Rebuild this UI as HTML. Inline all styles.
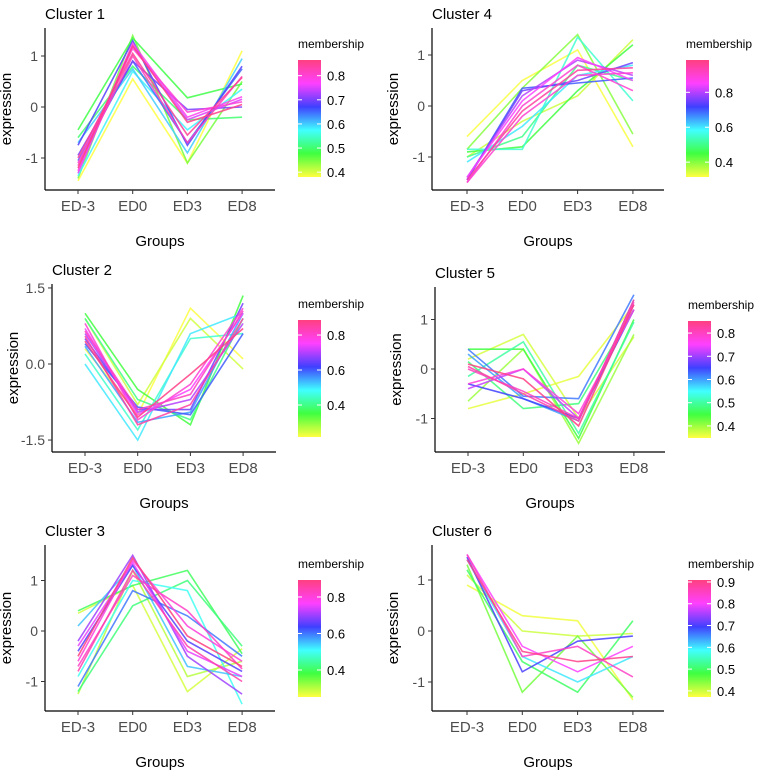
<!DOCTYPE html>
<html><head><meta charset="utf-8"><style>
body{margin:0;background:#fff;}
svg{display:block;font-family:"Liberation Sans",sans-serif;}
</style></head><body>
<svg id="s" width="767" height="775" viewBox="0 0 767 775">
<defs>
<linearGradient id="rb" x1="0" y1="1" x2="0" y2="0">
<stop offset="0" stop-color="#ffff40"/><stop offset="0.2" stop-color="#40ff40"/><stop offset="0.4" stop-color="#40ffff"/><stop offset="0.6" stop-color="#4040ff"/><stop offset="0.8" stop-color="#ff40ff"/><stop offset="1" stop-color="#ff4080"/>
</linearGradient>
</defs>
</svg>
<script>
const groups=["ED-3","ED0","ED3","ED8"];
const c1=[[-1.4,1.4,-1.1,0.5,0.45],[-0.45,1.35,0.18,0.45,0.48],[-1.45,0.55,-1.1,1.1,0.38],[-0.7,0.75,-0.9,0.95,0.6],[-1.35,0.7,-0.45,0.35,0.58],[-0.6,0.8,-0.25,-0.2,0.5],[-0.75,1.3,-0.75,0.8,0.68],[-0.95,0.9,-0.05,0.0,0.7],[-1.25,1.25,-0.2,0.2,0.78],[-1.1,1.15,-0.1,0.1,0.8],[-1.2,1.2,-0.3,0.05,0.86],[-1.0,1.05,-0.55,0.58,0.85],[-1.15,1.0,-0.7,0.6,0.82],[-1.3,1.2,-0.25,0.15,0.75],[-1.05,0.9,-0.7,0.75,0.65]];
const c2=[[1.0,-0.5,-1.2,1.35,0.35],[0.9,-0.8,0.9,-0.1,0.25],[0.3,-1.0,1.1,0.1,0.22],[0.0,-1.5,0.6,1.0,0.5],[0.2,-1.3,0.5,0.6,0.45],[0.9,-0.7,-1.1,0.9,0.4],[0.5,-0.9,-0.9,1.2,0.65],[0.4,-0.85,-1.0,0.6,0.6],[0.6,-0.95,-0.7,0.8,0.7],[0.7,-1.0,-0.5,1.0,0.75],[0.8,-1.1,-0.4,1.1,0.8],[0.55,-1.2,-0.8,0.9,0.85],[0.45,-1.05,-0.2,0.7,0.88],[0.65,-0.9,-0.6,1.05,0.82],[0.35,-1.15,-0.95,1.0,0.55]];
const c3=[[0.35,0.9,-1.2,-0.35,0.28],[-1.25,1.2,-0.9,-0.6,0.3],[0.4,0.9,1.2,-0.45,0.4],[-1.2,0.5,1.0,-0.3,0.42],[-0.9,1.0,0.8,-1.45,0.5],[0.1,1.3,-0.7,-0.9,0.55],[-1.1,0.8,0.3,-0.5,0.6],[-0.2,1.5,-0.5,-1.25,0.7],[-0.4,1.3,-0.2,-0.8,0.65],[-0.6,1.4,0.1,-0.6,0.8],[-0.8,1.2,-0.3,-1.0,0.85],[-0.5,1.45,-0.1,-0.7,0.9],[-0.7,1.1,0.4,-0.75,0.82],[-0.3,1.35,-0.4,-0.9,0.75]];
const c4=[[-0.6,0.5,1.1,-0.8,0.32],[-1.0,-0.3,0.2,1.3,0.35],[-0.85,0.35,1.4,-0.55,0.4],[-0.9,-0.8,0.3,1.2,0.45],[-1.0,-0.6,0.8,0.5,0.5],[-0.85,-0.85,1.35,0.1,0.55],[-1.1,-0.4,0.6,0.8,0.6],[-1.45,0.35,0.45,0.55,0.7],[-1.4,0.2,0.9,0.6,0.8],[-1.5,0.0,0.8,0.3,0.9],[-1.45,-0.1,0.7,0.75,0.95],[-1.4,0.1,0.95,0.5,0.85],[-1.5,-0.2,0.6,0.65,0.9],[-1.45,0.3,0.5,0.85,0.75]];
const c5=[[-0.8,-0.5,-0.15,1.3,0.36],[0.2,0.7,-1.0,0.65,0.37],[-0.65,0.4,-1.5,0.7,0.4],[0.4,0.4,-1.4,1.0,0.45],[-0.15,0.55,-1.3,0.95,0.5],[0.15,-0.8,-0.7,1.2,0.48],[0.4,-0.55,-0.6,1.5,0.62],[-0.3,-0.6,-1.0,1.2,0.65],[0.3,-0.6,-1.05,1.4,0.6],[-0.4,0.0,-1.0,1.3,0.72],[-0.3,0.0,-0.9,1.2,0.78],[0.0,-0.45,-1.0,1.35,0.8],[0.1,-0.2,-1.15,1.3,0.85],[0.05,-0.5,-1.05,1.4,0.82]];
const c6=[[0.9,0.3,0.2,-1.35,0.38],[1.1,0.0,-0.1,-0.05,0.4],[1.3,-1.2,-0.1,-1.3,0.45],[1.2,-0.6,-1.2,0.2,0.5],[1.4,-0.5,-1.0,-0.5,0.6],[1.45,-0.8,-0.2,-0.1,0.7],[1.5,-0.3,-0.8,-0.3,0.8],[1.5,-0.5,-0.3,-0.9,0.85],[1.4,-0.4,-0.6,-0.5,0.9]];
const yt1=[-1,0,1], yt2=[-1.5,0,1.5];
const lt1=[0.4,0.5,0.6,0.7,0.8], lt2=[0.4,0.6,0.8], lt3=[0.4,0.5,0.6,0.7,0.8,0.9];

const NS="http://www.w3.org/2000/svg", S=document.getElementById('s');
function mk(t,a,p){const e=document.createElementNS(NS,t);for(const k in a)e.setAttribute(k,a[k]);(p||S).appendChild(e);return e;}
const stops=[[0,[255,255,64]],[0.2,[64,255,64]],[0.4,[64,255,255]],[0.6,[64,64,255]],[0.8,[255,64,255]],[1,[255,64,128]]];
function col(t){t=Math.max(0,Math.min(1,t));for(let i=1;i<stops.length;i++){if(t<=stops[i][0]){const a=stops[i-1],b=stops[i],f=(t-a[0])/(b[0]-a[0]);return 'rgb('+a[1].map((v,j)=>Math.round(v+(b[1][j]-v)*f)).join(',')+')';}}return 'rgb(255,64,128)';}

const panels=[
{name:"Cluster 1",data:c1,ax:45,x0:78,dx:54.7,top:28,bot:190,right:275,y0:107,k:51,yt:yt1,dec:0,bx:298,bt:60,bb:177,lo:0.38,hi:0.865,lt:lt1},
{name:"Cluster 2",data:c2,ax:52,x0:85,dx:52.7,top:284,bot:452,right:276,y0:364,k:50.7,yt:yt2,dec:1,bx:298,bt:320,bb:437,lo:0.217,hi:0.886,lt:lt2},
{name:"Cluster 3",data:c3,ax:45,x0:78,dx:54.7,top:545,bot:711,right:275,y0:631,k:50.5,yt:yt1,dec:0,bx:298,bt:580,bb:697,lo:0.252,hi:0.893,lt:lt2},
{name:"Cluster 4",data:c4,ax:432,x0:467,dx:55.3,top:28,bot:190,right:664,y0:106,k:51,yt:yt1,dec:0,bx:686,bt:60,bb:177,lo:0.315,hi:0.985,lt:lt2},
{name:"Cluster 5",data:c5,ax:435,x0:468,dx:55.3,top:287,bot:452,right:665,y0:369,k:49.5,yt:yt1,dec:0,bx:688,bt:321,bb:438,lo:0.348,hi:0.852,lt:lt1},
{name:"Cluster 6",data:c6,ax:432,x0:467,dx:55.3,top:545,bot:711,right:664,y0:631,k:51,yt:yt1,dec:0,bx:688,bt:580,bb:697,lo:0.372,hi:0.909,lt:lt3}
];
panels.forEach((p,pi)=>{
  const g=mk('g',{});
  
  
  const X=i=>p.x0+i*p.dx, Y=v=>p.y0-v*p.k;
  const t=mk('text',{x:p.ax,y:p.top-9,'font-size':15,fill:'#000'},g);t.textContent=p.name;
  
  const rows=p.data.slice().sort((a,b)=>a[4]-b[4]);
  rows.forEach(r=>{
    const pts=groups.map((_,i)=>X(i).toFixed(1)+','+Y(r[i]).toFixed(1)).join(' ');
    const l=mk('polyline',{points:pts,fill:'none',stroke:col((r[4]-p.lo)/(p.hi-p.lo)),'stroke-width':1.6,'stroke-opacity':0.85},g);
    
  });
  const ya=mk('line',{x1:p.ax,y1:p.top,x2:p.ax,y2:p.bot,stroke:'#000','stroke-width':1.2},g);
  
  const xa=mk('line',{x1:p.ax,y1:p.bot,x2:p.right,y2:p.bot,stroke:'#000','stroke-width':1.2},g);
  
  p.yt.forEach(v=>{
    mk('line',{x1:p.ax-4,x2:p.ax,y1:Y(v),y2:Y(v),stroke:'#333'},g);
    const tl=mk('text',{x:p.ax-7,y:Y(v)+5,'font-size':14,fill:'#4d4d4d','text-anchor':'end'},g);
    tl.textContent=p.dec?v.toFixed(1):String(v);
    
  });
  groups.forEach((gname,i)=>{
    mk('line',{x1:X(i),x2:X(i),y1:p.bot,y2:p.bot+4,stroke:'#333'},g);
    const tl=mk('text',{x:X(i),y:p.bot+21,'font-size':15,fill:'#4d4d4d','text-anchor':'middle'},g);
    tl.textContent=gname;
  });
  const xt=mk('text',{x:(p.ax+p.right)/2,y:p.bot+56,'font-size':15,fill:'#000','text-anchor':'middle'},g);
  xt.textContent='Groups';
  const cy=(p.top+p.bot)/2, cx=p.ax-34;
  const yt=mk('text',{x:cx,y:cy,'font-size':15,fill:'#000','text-anchor':'middle',transform:`rotate(-90 ${cx} ${cy})`},g);
  yt.textContent='expression';
  const lg=mk('g',{},g);
  
  const lt=mk('text',{x:p.bx,y:p.bt-12,'font-size':12,fill:'#000'},lg);lt.textContent='membership';
  
  const bar=mk('rect',{x:p.bx,y:p.bt,width:23,height:p.bb-p.bt,fill:'url(#rb)'},lg);
  
  p.lt.forEach(v=>{
    const yy=p.bb-(v-p.lo)/(p.hi-p.lo)*(p.bb-p.bt);
    mk('line',{x1:p.bx,x2:p.bx+4,y1:yy,y2:yy,stroke:'#fff'},lg);
    mk('line',{x1:p.bx+19,x2:p.bx+23,y1:yy,y2:yy,stroke:'#fff'},lg);
    const tl=mk('text',{x:p.bx+29,y:yy+5,'font-size':13,fill:'#000'},lg);tl.textContent=v.toFixed(1);
    
  });
});
</script>
</body></html>
